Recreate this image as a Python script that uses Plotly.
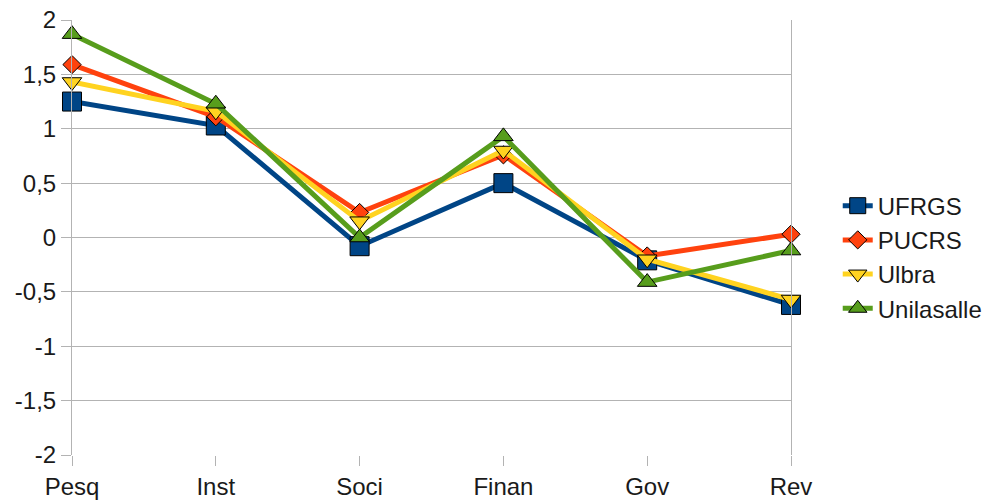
import plotly.graph_objects as go

categories = ["Pesq", "Inst", "Soci", "Finan", "Gov", "Rev"]
ufrgs = [1.25, 1.03, -0.08, 0.50, -0.21, -0.62]
pucrs = [1.59, 1.11, 0.23, 0.76, -0.17, 0.03]
ulbra = [1.43, 1.16, 0.15, 0.80, -0.20, -0.57]
unilasalle = [1.87, 1.23, 0.00, 0.93, -0.41, -0.12]
y_ticks = [-2, -1.5, -1, -0.5, 0, 0.5, 1, 1.5, 2]
y_tick_labels = ["-2", "-1,5", "-1", "-0,5", "0", "0,5", "1", "1,5", "2"]

series = [
    ("UFRGS", ufrgs, "#004586", "square", 19),
    ("PUCRS", pucrs, "#ff420e", "diamond", 14),
    ("Ulbra", ulbra, "#ffd320", "triangle-down", 17),
    ("Unilasalle", unilasalle, "#579d1c", "triangle-up", 17),
]

fig = go.Figure()
for i, (name, vals, color, sym, size) in enumerate(series):
    fig.add_trace(go.Scatter(
        x=categories, y=vals, name=name, mode="lines+markers",
        line=dict(color=color, width=5),
        marker=dict(symbol=sym, size=size, color=color,
                    line=dict(color="#000000", width=1)),
        cliponaxis=False, legendgroup=f"g{i}",
    ))

fig.update_layout(
    width=994, height=501,
    margin=dict(l=72, r=203, t=20, b=46, autoexpand=False),
    paper_bgcolor="white", plot_bgcolor="white",
    font=dict(family="Liberation Sans, Arial, sans-serif", size=24, color="#1a1a1a"),
    showlegend=True,
    legend=dict(x=1.065, xanchor="left", y=0.455, yanchor="middle",
                font=dict(size=24), tracegroupgap=0, traceorder="grouped",
                bgcolor="rgba(0,0,0,0)"),
    xaxis=dict(
        type="category", range=[0, 5], showgrid=False, automargin=False,
        showline=False, ticks="outside", ticklen=10, tickcolor="#b3b3b3",
        tickwidth=1, zeroline=False, tickfont=dict(size=24),
        ticklabeloverflow="allow",
    ),
    yaxis=dict(
        range=[-2, 2], tickvals=y_ticks, ticktext=y_tick_labels, automargin=False,
        showgrid=True, gridcolor="#b3b3b3", gridwidth=1,
        showline=True, linecolor="#b3b3b3", linewidth=1, mirror=True,
        ticks="outside", ticklen=10, tickcolor="#b3b3b3",
        zeroline=False, tickfont=dict(size=24), ticklabeloverflow="allow",
    ),
)

fig.write_html(
    "out.html",
    config={"displayModeBar": False},
    post_script="document.body.style.margin='0';document.body.style.overflow='hidden';",
)
